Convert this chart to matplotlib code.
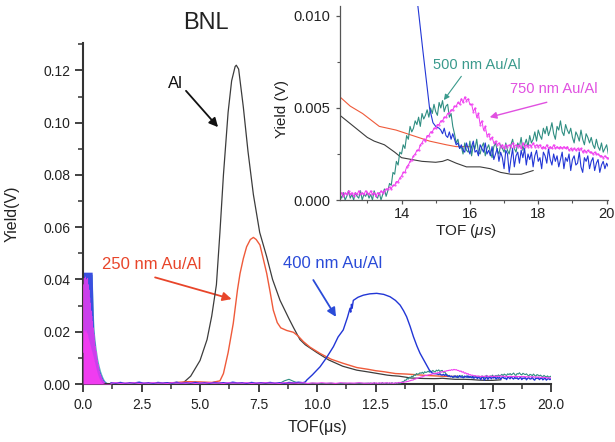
import numpy as np
import matplotlib
matplotlib.use("Agg")
import matplotlib.pyplot as plt

plt.rcParams['font.family'] = ['Liberation Sans', 'DejaVu Sans']
plt.rcParams['mathtext.fontset'] = 'custom'
plt.rcParams['mathtext.rm'] = 'Liberation Sans'
plt.rcParams['mathtext.it'] = 'Liberation Sans:italic'

# ---------------- data ----------------
# Al (black)
al_x = [3.5, 4.0, 4.3, 4.6, 5.0, 5.3, 5.5, 5.7, 5.85, 6.0, 6.2, 6.35, 6.5, 6.55, 6.65, 6.85,
        7.05, 7.28, 7.55, 7.85, 8.1, 8.42, 8.8, 9.0, 9.27, 9.5, 10.0, 10.5, 11.1, 11.7,
        12.2, 12.4, 12.6, 12.8, 13.0, 13.2, 13.5, 13.8, 14.0, 14.3, 14.6, 15.0, 15.2, 15.35,
        15.6, 15.9, 16.3, 16.6, 16.9, 17.2, 17.5, 17.85]
al_y = [0.0003, 0.0003, 0.0006, 0.003, 0.009, 0.017, 0.026, 0.038, 0.058, 0.080, 0.104, 0.116,
        0.1215, 0.122, 0.1205, 0.106, 0.089, 0.0725, 0.058, 0.0487, 0.040, 0.032, 0.025, 0.0215,
        0.0170, 0.0150, 0.0120, 0.0092, 0.0068, 0.0053,
        0.0046, 0.0043, 0.0040, 0.0037, 0.0034, 0.0032, 0.0030, 0.0026, 0.0023, 0.0022, 0.0021,
        0.00205, 0.0021, 0.0022, 0.0020, 0.0018, 0.0018, 0.0017, 0.0015, 0.0014, 0.0014, 0.0016]

# 250 nm Au/Al (red)
red_x = [3.5, 4.0, 4.5, 5.0, 5.5, 5.85, 6.0, 6.2, 6.42, 6.6, 6.71, 6.85, 6.99, 7.15, 7.28, 7.4,
         7.56, 7.7, 7.85, 8.0, 8.13, 8.3, 8.45, 8.7, 8.99, 9.2, 9.42, 9.7, 10.13, 10.6, 11.12,
         11.7, 12.2, 12.5, 12.86, 13.35, 13.84, 14.33, 14.82, 15.31, 15.6, 16.0]
red_y = [0.0003, 0.0006, 0.0009, 0.0008, 0.0006, 0.0012, 0.004, 0.012, 0.0232, 0.036, 0.0423,
         0.048, 0.0525, 0.0553, 0.0561, 0.0553, 0.0532, 0.048, 0.0423, 0.035, 0.0283, 0.0235,
         0.0215, 0.0205, 0.0198, 0.0183, 0.0162, 0.0141, 0.0117, 0.0095, 0.0079, 0.0063,
         0.0056, 0.0051, 0.0047, 0.0040, 0.0038, 0.0035, 0.0032, 0.0030, 0.0029, 0.0029]

# 400 nm Au/Al (blue)
blue_base_start, blue_base_step = 1.2, 0.2
blue_base_e4 = [5, 3, 6, 2, 5, 4, 7, 3, 5, 2, 6, 4, 5, 3, 7, 2, 5, 4, 6, 3, 5, 2, 6, 4, 5, 3,
                7, 4, 5, 2, 6, 3, 5, 4, 6, 3, 5, 2, 6, 4, 7, 5]
blue_peak_x = [9.5, 9.56, 9.8, 10.13, 10.4, 10.7, 10.9, 11.12, 11.3, 11.41, 11.44, 11.47, 11.5,
               11.55, 11.75, 11.98, 12.25, 12.55, 12.85, 13.12, 13.35, 13.55, 13.7, 13.83,
               13.98, 14.12, 14.27, 14.4, 14.5, 14.62, 14.72, 14.82, 14.92, 15.0, 15.1]
blue_peak_y = [0.0008, 0.0015, 0.0035, 0.0066, 0.0100, 0.0143, 0.0180, 0.0207, 0.0255, 0.0290,
               0.0275, 0.0305, 0.0290, 0.0320, 0.0332, 0.0340, 0.0345, 0.0347, 0.0343, 0.0334,
               0.0320, 0.0302, 0.0280, 0.0257, 0.0220, 0.0181, 0.0145, 0.0118, 0.0102, 0.0082,
               0.0066, 0.0050, 0.0042, 0.0040, 0.0039]
blue_tail_start, blue_tail_step = 15.15, 0.05
blue_tail_e4 = [38, 36, 39, 35, 34, 37, 33, 36,
                33, 30, 31, 28,
                30, 27, 26, 31, 28, 25, 29, 32, 26, 27, 24, 30, 28, 26, 31, 25,
                27, 24, 29, 22, 25, 28, 21, 26, 23, 17, 27, 25, 15, 22, 28, 18, 24, 26, 20, 27,
                23, 28, 19, 25, 22, 26, 18, 24, 27, 21, 23, 17, 26, 24, 20, 28, 22, 19, 25, 21,
                24, 18, 22, 26, 17, 23, 21, 25, 16, 22, 24, 19, 20, 26, 18, 15, 23, 21, 24, 17,
                21, 23, 16, 20, 22, 15, 19, 21, 17, 20, 18]

# 500 nm Au/Al (teal)
teal_base_start, teal_base_step = 1.2, 0.2
teal_base_e4 = [2, 1, 3, 1, 2, 0, 3, 1, 2, 1, 3, 2, 1, 2, 3, 1, 2, 0, 3, 2, 1, 2, 3, 1, 2, 1,
                3, 2, 1, 2, 3, 1, 2, 0, 3, 1, 2, 12, 18, 10, 3, 2, 1, 3, 2, 1, 2, 3, 1, 2, 3, 1,
                2, 3, 2]
teal_fine_start, teal_fine_step = 12.2, 0.05
teal_fine_e4 = [3, 1, 4, 0, 2, 5, 1, 3, 0, 4, 2, 1, 5, 0, 3, 2, 4, 1, 3, 0, 5, 2, 1, 4, 0, 3, 6, 2, 5,
                9, 8, 15, 14, 21, 19, 26, 25, 30, 28, 35, 33, 40, 37, 39, 43, 41, 45, 40, 47,
                44, 46, 49, 45, 50, 47, 52, 48, 46, 53, 50, 54, 48, 51, 52, 45, 47, 40, 36, 31,
                33, 28, 29, 25, 31, 27, 26, 32, 24, 30, 28, 33, 26, 25, 29, 31, 24, 28, 30, 26,
                23, 29, 31, 27, 25, 30, 28, 26,
                31, 27, 25, 30, 33, 28, 26, 31, 29, 34, 27, 30, 33, 29,
                35, 31, 33, 37, 32, 38, 35, 33, 39, 36,
                40, 35, 38, 42, 36, 33, 40, 38, 43, 37, 35, 41, 38, 36,
                39, 34, 31, 37, 35, 32, 38, 33, 30, 36, 34, 31,
                34, 30, 28, 33, 29, 27, 31, 26, 28, 30, 25]

# 750 nm Au/Al (magenta)
mag_base_start, mag_base_step = 1.2, 0.2
mag_base_e4 = [3, 5, 2, 4, 3, 5, 2, 4, 3, 5, 3, 4, 2, 5, 3, 4, 3, 5, 2, 4, 3, 5, 3, 4, 2, 5,
               3, 4, 3, 5, 2, 4, 3, 5, 3, 4, 2, 5, 3, 4, 3, 5, 2, 4, 3, 5, 3, 4, 2, 5, 3, 4,
               3, 5, 3]
mag_fine_start, mag_fine_step = 12.2, 0.05
mag_fine_e4 = [3, 4, 2, 4, 3, 5, 3, 4, 2, 4, 3, 5, 3, 4, 3, 5, 4, 3, 5, 3, 4, 2, 4, 3, 5, 4, 5, 6,
               6, 7, 6, 8, 8, 10, 10, 12, 13, 15, 15, 18, 19, 21, 22, 24, 25, 27, 27, 30, 31,
               33, 32, 35, 35, 37, 37, 39, 39, 41, 41, 43, 43, 45, 45, 47, 47, 49, 49, 51, 51,
               53, 52, 55, 53, 56, 54, 55, 52,
               52, 48, 50, 45, 47, 41, 43, 38, 40, 35, 36, 33, 34, 31, 32, 30, 31, 29, 30, 28,
               30, 29, 30, 29, 31, 29, 30, 29, 30, 28, 31, 29, 30, 29, 30, 29, 31, 29, 30, 29,
               30, 28, 29, 28, 30, 28, 29, 28, 30, 28, 29, 28, 29, 28, 29, 28, 29, 27, 28, 27,
               28, 27, 28, 27, 28, 26, 27, 26, 27, 26, 26, 25, 26, 25, 25, 24, 24, 23, 24, 23, 23]

# noise burst near t = 0
spike_start, spike_step = 0.0, 0.03
teal_spike_e4 = [420] * 14 + [330, 250, 200, 175, 150, 130, 112, 95, 82, 70, 60, 50, 42, 35,
                              28, 22, 17, 13, 10, 8, 6, 5, 4, 4, 3, 3, 3]
blue_spike_e4 = [428] * 14 + [300, 210, 175, 150, 125, 105, 90, 76, 64, 54, 46, 38, 31, 25,
                              19, 15, 11, 8, 7, 6, 5, 5, 4, 4, 3, 3, 3]
mag_spike_fill_e4 = [120, 200, 210, 200, 210, 190, 200, 180, 170, 160, 150, 140, 130, 120, 110,
                     100, 90, 78, 66, 55, 45, 36, 28, 22, 17, 13, 10, 8, 6, 4, 3,
                     2, 2, 2, 2, 2, 2, 2, 2, 2, 2]
mag_zig_start, mag_zig_step = 0.02, 0.015
mag_zig_e4 = [380, 120, 405, 90, 395, 200, 410, 150, 400, 100, 390, 180, 405, 120, 380, 160,
              360, 110, 330, 140, 310, 100, 280, 130, 260, 90, 240, 110, 215, 80, 190, 90,
              165, 70, 145, 60, 125, 50, 105, 40, 90, 35, 75, 25, 60, 20, 48, 15, 38, 12, 30,
              10, 23, 8, 17, 6, 12, 5, 9, 4, 6]

# ticks
main_xticks = [0.0, 2.5, 5.0, 7.5, 10.0, 12.5, 15.0, 17.5, 20.0]
main_yticks = [0.00, 0.02, 0.04, 0.06, 0.08, 0.10, 0.12]
inset_xticks = [14, 16, 18, 20]
inset_yticks = [0.000, 0.005, 0.010]

# colours
C_BLACK = '#3c3c3c'
C_RED = '#ef5a3a'
C_BLUE = '#2236d6'
C_TEAL = '#2f8e82'
C_MAG = '#f03cf0'


def grid(start, step, vals):
    return start + step * np.arange(len(vals))


def e4(vals):
    return np.asarray(vals) * 1e-4


blue_x = np.concatenate([grid(blue_base_start, blue_base_step, blue_base_e4), blue_peak_x,
                         grid(blue_tail_start, blue_tail_step, blue_tail_e4)])
blue_y = np.concatenate([e4(blue_base_e4), blue_peak_y, e4(blue_tail_e4)])
teal_x = np.concatenate([grid(teal_base_start, teal_base_step, teal_base_e4),
                         grid(teal_fine_start, teal_fine_step, teal_fine_e4)])
teal_y = np.concatenate([e4(teal_base_e4), e4(teal_fine_e4)])
mag_x = np.concatenate([grid(mag_base_start, mag_base_step, mag_base_e4),
                        grid(mag_fine_start, mag_fine_step, mag_fine_e4)])
mag_y = np.concatenate([e4(mag_base_e4), e4(mag_fine_e4)])
spike_x = grid(spike_start, spike_step, blue_spike_e4)

# ---------------- figure ----------------
fig = plt.figure(figsize=(6.15, 4.42), dpi=100)
ax = fig.add_axes([0.1350, 0.1312, 0.7610, 0.7715])

ax.fill_between(spike_x, 0, e4(teal_spike_e4), color='#5ab0c0', lw=0, zorder=2)
ax.fill_between(spike_x, 0, e4(blue_spike_e4), color='#3a4fe0', lw=0, zorder=2)
ax.fill_between(spike_x, 0, e4(mag_spike_fill_e4), color=C_MAG, lw=0, zorder=3)
ax.plot(grid(mag_zig_start, mag_zig_step, mag_zig_e4), e4(mag_zig_e4), color=C_MAG, lw=0.5,
        alpha=0.8, zorder=3)

ax.plot(al_x, al_y, color=C_BLACK, lw=0.9, zorder=4)
ax.plot(red_x, red_y, color=C_RED, lw=1.0, zorder=4)
ax.plot(teal_x, teal_y, color=C_TEAL, lw=0.8, zorder=4)
ax.plot(blue_x, blue_y, color=C_BLUE, lw=1.0, zorder=4)
ax.plot(mag_x, mag_y, color=C_MAG, lw=0.8, zorder=4)

ax.set_xlim(0, 20)
ax.set_ylim(0, 0.1305)
ax.set_xticks(main_xticks)
ax.set_xticklabels([f'{v:.1f}' for v in main_xticks])
ax.set_yticks(main_yticks)
ax.set_yticklabels([f'{v:.2f}' for v in main_yticks])
ax.set_xticks(np.array(main_xticks[:-1]) + 1.25, minor=True)
ax.set_yticks(np.array(main_yticks) + 0.01, minor=True)
for s in ['top', 'right']:
    ax.spines[s].set_visible(False)
for s in ['left', 'bottom']:
    ax.spines[s].set_linewidth(1.5)
    ax.spines[s].set_color('#333333')
ax.tick_params(which='major', direction='out', length=6, width=1.3, color='#333333',
               labelsize=10, labelcolor='#222222', pad=3)
ax.tick_params(which='minor', direction='out', length=3.5, width=1.1, color='#333333')
ax.tick_params(axis='x', which='major', pad=4)

ax.set_xlabel('TOF(μs)', fontsize=11.5, color='#222222')
ax.xaxis.label.set_va('center')
ax.xaxis.set_label_coords(0.5, -0.129)
ax.set_ylabel('Yield(V)', fontsize=11.5, color='#222222')
ax.yaxis.label.set_va('center')
ax.yaxis.set_label_coords(-0.152, 0.5)

fig.text(206 / 615, 1 - 23 / 442, 'BNL', fontsize=17, ha='center', va='center', color='#222222')

# annotations main
ax.text(3.93, 0.1151, 'Al', fontsize=12, ha='center', va='center', color='#111111')
ax.annotate('', xy=(5.77, 0.0983), xytext=(4.4, 0.1122),
            arrowprops=dict(arrowstyle='-|>', color='#111111', lw=1.3, mutation_scale=13,
                            shrinkA=0, shrinkB=0))
ax.text(2.95, 0.0459, '250 nm Au/Al', fontsize=12, ha='center', va='center', color='#e8452a')
ax.annotate('', xy=(6.35, 0.0325), xytext=(3.08, 0.0408),
            arrowprops=dict(arrowstyle='-|>', color='#e8452a', lw=1.3, mutation_scale=13,
                            shrinkA=0, shrinkB=0))
ax.text(10.68, 0.0462, '400 nm Au/Al', fontsize=12, ha='center', va='center', color='#2a4bd8')
ax.annotate('', xy=(10.81, 0.0257), xytext=(9.84, 0.0398),
            arrowprops=dict(arrowstyle='-|>', color='#2a4bd8', lw=1.3, mutation_scale=13,
                            shrinkA=0, shrinkB=0))

# ---------------- inset ----------------
ins = fig.add_axes([0.5528, 0.5475, 0.4358, 0.4389])
ins.set_facecolor('white')
ins.plot(al_x, al_y, color=C_BLACK, lw=0.8)
ins.plot(red_x, red_y, color=C_RED, lw=0.8)
ins.plot(teal_x, teal_y, color=C_TEAL, lw=0.8)
ins.plot(blue_x, blue_y, color=C_BLUE, lw=0.8)
ins.plot(mag_x, mag_y, color=C_MAG, lw=0.7, marker='.', ms=1.0)
ins.set_xlim(12.2, 20.04)
ins.set_ylim(0, 0.01054)
ins.set_xticks(inset_xticks)
ins.set_xticklabels([str(v) for v in inset_xticks])
ins.set_yticks(inset_yticks)
ins.set_yticklabels([f'{v:.3f}' for v in inset_yticks])
ins.set_xticks([13, 15, 17, 19], minor=True)
ins.set_yticks([0.0025, 0.0075], minor=True)
for s in ['top', 'right']:
    ins.spines[s].set_visible(False)
for s in ['left', 'bottom']:
    ins.spines[s].set_linewidth(0.9)
    ins.spines[s].set_color('#555555')
ins.tick_params(which='major', direction='out', length=3, width=0.9, color='#555555',
                labelsize=10.5, labelcolor='#222222', pad=4)
ins.tick_params(which='minor', direction='out', length=2, width=0.8, color='#555555')
ins.tick_params(axis='x', which='major', pad=2)
ins.set_xlabel(r'TOF ($\mu$s)', fontsize=11, color='#222222')
ins.xaxis.label.set_va('center')
ins.xaxis.set_label_coords(0.47, -0.16)
ins.set_ylabel('Yield (V)', fontsize=11, color='#222222')
ins.yaxis.label.set_va('center')
ins.yaxis.set_label_coords(-0.215, 0.47)

ins.text(16.2, 0.00734, '500 nm Au/Al', fontsize=10.5, ha='center', va='center', color='#3a9a8c')
ins.annotate('', xy=(15.24, 0.00543), xytext=(15.75, 0.00672),
             arrowprops=dict(arrowstyle='-|>', color='#3a9a8c', lw=0.8, mutation_scale=8,
                             shrinkA=0, shrinkB=0))
ins.text(18.46, 0.00603, '750 nm Au/Al', fontsize=10.5, ha='center', va='center', color='#e050e0')
ins.annotate('', xy=(16.58, 0.0045), xytext=(18.25, 0.00531),
             arrowprops=dict(arrowstyle='-|>', color='#e050e0', lw=1.0, mutation_scale=10,
                             shrinkA=0, shrinkB=0))

fig.savefig('out.png', dpi=100)
